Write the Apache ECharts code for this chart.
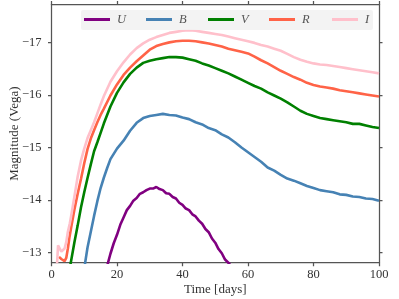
<!DOCTYPE html>
<html><head><meta charset="utf-8">
<script src="https://cdn.jsdelivr.net/npm/echarts@6/dist/echarts.min.js"></script>
<style>html,body{margin:0;padding:0;background:#fff}#c{width:399px;height:299px}</style>
</head><body><div id="c"></div>
<script>
const bands = ['U','B','V','R','I'];
const colors = ['#800080','#4682b4','#008000','#ff6347','#ffc0cb'];
const xTicks = [0,20,40,60,80,100];
const yTicks = [-17,-16,-15,-14,-13];

const tU = [17,18,19,20,21,22,23,24,25,26,27,28,29,30,31,32,33,34,35,36,37,38,39,40,41,42,43,44,45,46,47,48,49,50,51,52,53,54,54.5];
const mU = [-12.75,-12.98,-13.18,-13.34,-13.53,-13.67,-13.81,-13.89,-13.99,-14.04,-14.12,-14.15,-14.19,-14.22,-14.22,-14.25,-14.21,-14.19,-14.13,-14.12,-14.06,-14.03,-13.95,-13.91,-13.84,-13.81,-13.73,-13.69,-13.61,-13.55,-13.45,-13.39,-13.27,-13.19,-13.07,-12.99,-12.87,-12.81,-12.78];

const tB = [10.2,11,12,13,14,15,16,17,18,20,22,24,26,28,30,32,34,36,38,40,42,44,46,48,50,52,54,56,58,60,62,64,66,68,70,72,74,76,78,80,82,84,86,88,90,92,94,96,98,100];
const mB = [-12.78,-13.1,-13.4,-13.7,-13.98,-14.23,-14.43,-14.61,-14.78,-14.98,-15.13,-15.32,-15.47,-15.56,-15.6,-15.62,-15.64,-15.62,-15.61,-15.57,-15.54,-15.48,-15.44,-15.37,-15.33,-15.25,-15.19,-15.1,-15.0,-14.91,-14.82,-14.73,-14.62,-14.56,-14.48,-14.41,-14.37,-14.32,-14.27,-14.23,-14.19,-14.17,-14.15,-14.11,-14.1,-14.07,-14.06,-14.03,-14.02,-13.99];

const tV = [5.8,7,8,9,10,11,12,13,14,15,16,18,20,22,24,26,28,30,32,34,36,38,40,42,44,46,48,50,52,54,56,58,60,62,64,66,68,70,72,74,76,78,80,82,84,86,88,90,92,94,96,98,100];
const mV = [-12.78,-13.2,-13.52,-13.86,-14.15,-14.42,-14.68,-14.93,-15.1,-15.28,-15.46,-15.78,-16.04,-16.24,-16.4,-16.52,-16.61,-16.65,-16.68,-16.7,-16.72,-16.72,-16.71,-16.68,-16.65,-16.6,-16.56,-16.51,-16.46,-16.41,-16.35,-16.29,-16.23,-16.17,-16.12,-16.05,-15.99,-15.93,-15.86,-15.78,-15.7,-15.64,-15.6,-15.56,-15.54,-15.52,-15.5,-15.48,-15.45,-15.45,-15.42,-15.39,-15.37];

const tR = [2.3,3,3.5,4,4.5,5,5.5,6,7,8,9,10,11,12,13,14,15,16,18,20,22,24,26,28,30,32,34,36,38,40,42,44,46,48,50,52,54,56,58,60,62,64,66,68,70,72,74,76,78,80,82,84,86,88,90,92,94,96,98,100];
const mR = [-12.92,-12.88,-12.85,-12.84,-12.9,-13.08,-13.3,-13.48,-13.82,-14.12,-14.4,-14.7,-14.97,-15.17,-15.33,-15.48,-15.62,-15.74,-15.99,-16.2,-16.38,-16.52,-16.64,-16.75,-16.86,-16.93,-16.97,-17.0,-17.02,-17.03,-17.03,-17.02,-17.0,-16.98,-16.95,-16.92,-16.88,-16.85,-16.82,-16.79,-16.73,-16.66,-16.6,-16.53,-16.46,-16.4,-16.34,-16.29,-16.23,-16.19,-16.16,-16.14,-16.12,-16.09,-16.07,-16.05,-16.03,-16.01,-15.99,-15.97];

const tI = [1.7,2,2.5,3,3.5,4,4.5,5,5.6,6,7,8,9,10,11,12,13,14,15,16,18,20,22,24,26,28,30,32,34,36,38,40,42,44,46,48,50,52,54,56,58,60,62,64,66,68,70,72,74,76,78,80,82,84,86,88,90,92,94,96,98,100];
const mI = [-12.8,-13.14,-13.12,-13.02,-13.0,-13.08,-13.2,-13.4,-13.56,-13.7,-14.07,-14.45,-14.75,-14.98,-15.18,-15.33,-15.48,-15.65,-15.82,-15.98,-16.25,-16.45,-16.62,-16.77,-16.89,-16.98,-17.05,-17.1,-17.14,-17.18,-17.2,-17.22,-17.23,-17.22,-17.2,-17.18,-17.16,-17.14,-17.11,-17.08,-17.05,-17.02,-16.99,-16.95,-16.92,-16.88,-16.84,-16.78,-16.72,-16.67,-16.63,-16.6,-16.58,-16.57,-16.55,-16.53,-16.51,-16.49,-16.47,-16.45,-16.43,-16.41];

const times = [tU,tB,tV,tR,tI];
const mags = [mU,mB,mV,mR,mI];

const FONT = 'Liberation Serif';
const minus = v => (v < 0 ? '\u2212' + Math.abs(v) : String(v));
const axisLineStyle = {color:'#555', width:1.25};

const legendLeft = [84,146,208,269,332];
const chart = echarts.init(document.getElementById('c'), null, {renderer:'canvas'});
chart.setOption({
  animation:false,
  backgroundColor:'#fff',
  grid:{left:51.5, right:20, top:4.5, bottom:36.3, containLabel:false, outerBoundsMode:'none'},
  graphic:[{type:'rect', shape:{x:81,y:10,width:292,height:20,r:2}, style:{fill:'rgba(242,242,242,0.9)'}, z:50}],
  legend: bands.map((b,i)=>({
    data:[b], left:legendLeft[i], top:13, padding:0, itemWidth:26, itemHeight:3, itemGap:0,
    icon:'rect', z:60,
    textStyle:{fontFamily:FONT, fontStyle:'italic', fontSize:12.5, color:'#555', padding:[0,0,0,2]}
  })),
  xAxis:[
    {type:'value', min:0, max:100, interval:20, position:'bottom',
     name:'Time [days]', nameLocation:'middle', nameGap:20, nameMoveOverlap:false,
     nameTextStyle:{fontFamily:FONT, fontSize:13, color:'#333'},
     axisLine:{show:true, lineStyle:axisLineStyle},
     axisTick:{show:true, length:3.5, lineStyle:axisLineStyle},
     axisLabel:{fontFamily:FONT, fontSize:12.5, color:'#333', margin:6},
     splitLine:{show:false}},
    {type:'value', min:0, max:100, interval:20, position:'top',
     axisLine:{show:true, onZero:false, lineStyle:axisLineStyle},
     axisTick:{show:true, length:3.5, lineStyle:axisLineStyle},
     axisLabel:{show:false}, splitLine:{show:false}}
  ],
  yAxis:[
    {type:'value', min:-17.72, max:-12.81, inverse:true, position:'left',
     name:'Magnitude (Vega)', nameLocation:'middle', nameGap:30, nameMoveOverlap:false,
     nameTextStyle:{fontFamily:FONT, fontSize:13, color:'#333'},
     axisLine:{show:true, onZero:false, lineStyle:axisLineStyle},
     axisTick:{show:true, length:3.5, customValues:yTicks, lineStyle:axisLineStyle},
     axisLabel:{fontFamily:FONT, fontSize:12.5, color:'#333', margin:10, customValues:yTicks, formatter:minus},
     splitLine:{show:false}},
    {type:'value', min:-17.72, max:-12.81, inverse:true, position:'right',
     axisLine:{show:true, onZero:false, lineStyle:axisLineStyle},
     axisTick:{show:true, length:3.5, customValues:yTicks, lineStyle:axisLineStyle},
     axisLabel:{show:false, customValues:yTicks}, splitLine:{show:false}}
  ],
  series: bands.map((b,i)=>({
    name:b, type:'line', xAxisIndex:0, yAxisIndex:0,
    data: times[i].map((t,j)=>[t, mags[i][j]]),
    showSymbol:false, symbol:'none', clip:true,
    lineStyle:{color:colors[i], width:2.6},
    itemStyle:{color:colors[i]}, z:2+i
  }))
});
</script></body></html>
